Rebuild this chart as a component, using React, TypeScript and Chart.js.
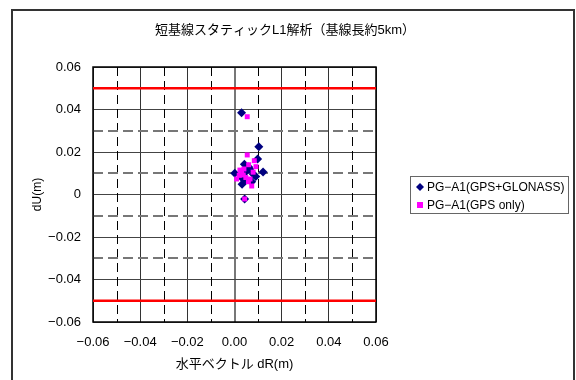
import React, { useEffect, useRef } from "react";
import { Chart, registerables } from "chart.js";

Chart.register(...registerables);

const titleText = "短基線スタティックL1解析（基線長約5km）";
const xTitle = "水平ベクトル dR(m)";
const yTitle = "dU(m)";
const seriesNames = ["PG−A1(GPS+GLONASS)", "PG−A1(GPS only)"];

const glonassX = [0.003, 0.0103, 0.0098, 0.0042, 0.006, 0.0001, 0.0121, 0.0032, 0.008, 0.0073, 0.005, 0.003, 0.0065, 0.009, 0.0045, 0.0043];
const glonassY = [0.0385, 0.0225, 0.0167, 0.0142, 0.013, 0.01, 0.0106, 0.0048, 0.0095, 0.006, 0.011, 0.008, 0.012, 0.0085, 0.0065, -0.0021];

const gpsX = [0.0054, 0.0054, 0.0084, 0.0091, 0.0023, 0.0037, 0.0009, 0.0066, 0.0073, 0.0043, 0.0079, 0.0059, 0.003, 0.0048, 0.002, 0.006, 0.004];
const gpsY = [0.0366, 0.0186, 0.0159, 0.0131, 0.0115, 0.0092, 0.0073, 0.0073, 0.004, -0.0021, 0.0105, 0.006, 0.01, 0.008, 0.009, 0.014, 0.012];

const limitX = [-0.06, 0.06];
const limitY = [0.05, -0.05];

const axisMin = -0.06;
const axisMax = 0.06;
const stepSize = 0.01;

const FONT = "'Liberation Sans', 'Noto Sans CJK JP', sans-serif";

function fmtX(v: number) {
  const s = Math.abs(v).toFixed(2);
  return v < -1e-9 ? "−" + s : s;
}
function fmtY(v: number) {
  if (Math.abs(v) < 1e-9) return "0";
  const s = Math.abs(v).toFixed(2);
  return v < 0 ? "−" + s : s;
}
function isMajor(v: number) {
  return Math.abs(Math.round(v * 100)) % 2 === 0;
}

export default function App() {
  const ref = useRef<HTMLCanvasElement | null>(null);

  useEffect(() => {
    document.body.style.margin = "0";
    const canvas = ref.current;
    if (!canvas) return;

    const toPts = (xs: number[], ys: number[]) => xs.map((x, i) => ({ x, y: ys[i] }));

    const decor = {
      id: "decor",
      beforeDraw(chart: any) {
        const { ctx } = chart;
        ctx.save();
        ctx.fillStyle = "#fff";
        ctx.fillRect(0, 0, chart.width, chart.height);
        ctx.restore();
      },
      beforeDatasetsDraw(chart: any) {
        const { ctx, chartArea, scales } = chart;
        const xs = scales.x;
        const ys = scales.y;
        ctx.save();
        ctx.strokeStyle = "#000";
        ctx.lineWidth = 1;
        ctx.setLineDash([9, 5]);
        for (let k = -5; k <= 5; k += 2) {
          const px = Math.round(xs.getPixelForValue(k / 100)) + 0.5;
          ctx.beginPath();
          ctx.moveTo(px, chartArea.top);
          ctx.lineTo(px, chartArea.bottom);
          ctx.stroke();
        }
        ctx.strokeStyle = "#777";
        ctx.lineWidth = 2;
        ctx.setLineDash([10, 5]);
        for (let k = -5; k <= 5; k += 2) {
          const py = Math.round(ys.getPixelForValue(k / 100));
          ctx.beginPath();
          ctx.moveTo(chartArea.left, py);
          ctx.lineTo(chartArea.right, py);
          ctx.stroke();
        }
        ctx.setLineDash([]);
        ctx.strokeStyle = "#000";
        ctx.lineWidth = 1.5;
        ctx.strokeRect(chartArea.left, chartArea.top, chartArea.right - chartArea.left, chartArea.bottom - chartArea.top);
        ctx.restore();
      },
      afterDraw(chart: any) {
        const { ctx } = chart;
        ctx.save();
        ctx.strokeStyle = "#333";
        ctx.lineWidth = 2;
        ctx.strokeRect(12, 10, 562, 400);
        ctx.fillStyle = "#000";
        ctx.font = "13px " + FONT;
        ctx.textAlign = "center";
        ctx.textBaseline = "middle";
        ctx.fillText(titleText, 285, 30);
        ctx.strokeStyle = "#666";
        ctx.lineWidth = 1;
        ctx.strokeRect(410.5, 176.5, 158, 37);
        const ds = chart.data.datasets;
        const rows = [
          { y: 187, d: ds[0] },
          { y: 205, d: ds[1] },
        ];
        ctx.textAlign = "left";
        ctx.font = "12px " + FONT;
        rows.forEach((r) => {
          ctx.fillStyle = r.d.backgroundColor;
          if (r.d.pointStyle === "rectRot") {
            ctx.beginPath();
            ctx.moveTo(420, r.y - 4);
            ctx.lineTo(424, r.y);
            ctx.lineTo(420, r.y + 4);
            ctx.lineTo(416, r.y);
            ctx.closePath();
            ctx.fill();
          } else {
            ctx.fillRect(417, r.y - 3, 6, 6);
          }
          ctx.fillStyle = "#000";
          ctx.fillText(r.d.label, 427, r.y + 1);
        });
        ctx.restore();
      },
    };

    const chart = new Chart(canvas, {
      type: "scatter",
      data: {
        datasets: [
          {
            label: seriesNames[0],
            data: toPts(glonassX, glonassY),
            pointStyle: "rectRot",
            radius: 4.5,
            backgroundColor: "#000080",
            borderColor: "#000080",
            borderWidth: 0,
            order: 2,
          } as any,
          {
            label: seriesNames[1],
            data: toPts(gpsX, gpsY),
            pointStyle: "rect",
            radius: 3.5,
            backgroundColor: "#FF00FF",
            borderColor: "#FF00FF",
            borderWidth: 0,
            order: 1,
          } as any,
          {
            label: "upper",
            data: toPts(limitX, [limitY[0], limitY[0]]),
            showLine: true,
            borderColor: "#FF0000",
            borderWidth: 2.5,
            pointRadius: 0,
            order: 3,
          } as any,
          {
            label: "lower",
            data: toPts(limitX, [limitY[1], limitY[1]]),
            showLine: true,
            borderColor: "#FF0000",
            borderWidth: 2.5,
            pointRadius: 0,
            order: 3,
          } as any,
        ],
      },
      options: {
        animation: false,
        responsive: false,
        maintainAspectRatio: false,
        layout: { padding: { left: 0, top: 67, right: 200, bottom: 0 } },
        plugins: {
          legend: { display: false },
          tooltip: { enabled: false },
          title: { display: false },
        },
        scales: {
          x: {
            type: "linear",
            min: axisMin,
            max: axisMax,
            afterFit: (s: any) => {
              s.height = 58;
            },
            border: { display: false },
            grid: {
              drawTicks: false,
              color: (c: any) => (c.tick && isMajor(c.tick.value) ? (Math.abs(c.tick.value) < 1e-9 ? "#777" : "#333") : "rgba(0,0,0,0)"),
              lineWidth: (c: any) => (c.tick && Math.abs(c.tick.value) < 1e-9 ? 2 : 1),
            },
            ticks: {
              stepSize,
              autoSkip: false,
              maxRotation: 0,
              padding: 13,
              color: "#000",
              font: { family: FONT, size: 13 },
              callback: (v: any) => (isMajor(Number(v)) ? fmtX(Number(v)) : ""),
            },
            title: {
              display: true,
              text: xTitle,
              color: "#000",
              font: { family: FONT, size: 13 },
              padding: { top: 8, bottom: 8 },
            },
          },
          y: {
            type: "linear",
            min: axisMin,
            max: axisMax,
            afterFit: (s: any) => {
              s.width = 93;
            },
            border: { display: false },
            grid: {
              drawTicks: false,
              color: (c: any) => (c.tick && isMajor(c.tick.value) ? "#444" : "rgba(0,0,0,0)"),
              lineWidth: 1,
            },
            ticks: {
              stepSize,
              autoSkip: false,
              padding: 12,
              color: "#000",
              font: { family: FONT, size: 13 },
              callback: (v: any) => (isMajor(Number(v)) ? fmtY(Number(v)) : ""),
            },
            title: {
              display: true,
              text: yTitle,
              color: "#000",
              font: { family: FONT, size: 12 },
              padding: { top: 30, bottom: 30 },
            },
          },
        },
      } as any,
      plugins: [decor],
    });

    return () => chart.destroy();
  }, []);

  return (
    <div style={{ width: 576, height: 380 }}>
      <canvas ref={ref} width={576} height={380} style={{ display: "block" }} />
    </div>
  );
}
